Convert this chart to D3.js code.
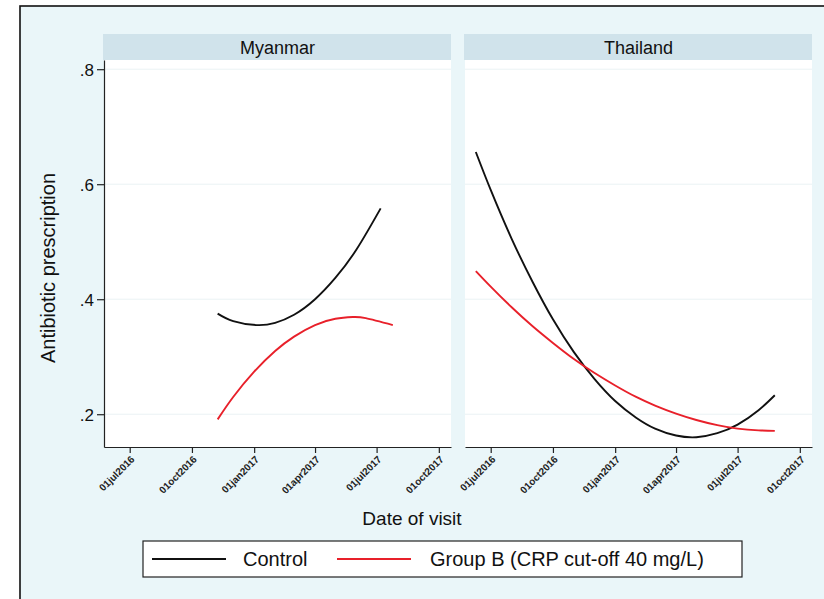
<!DOCTYPE html>
<html><head><meta charset="utf-8">
<script src="https://cdn.jsdelivr.net/npm/d3@7"></script>
<style>body{margin:0;background:#fff}svg{display:block;font-family:"Liberation Sans",Arial,sans-serif}</style>
</head><body>
<script>
// ---- data ----
const panels = ["Myanmar", "Thailand"];
const xTickLabels = ["01jul2016","01oct2016","01jan2017","01apr2017","01jul2017","01oct2017"];
const xTickDates = ["2016-07-01","2016-10-01","2017-01-01","2017-04-01","2017-07-01","2017-10-01"];
const yTicks = [0.2, 0.4, 0.6, 0.8];
const yTickLabels = [".2", ".4", ".6", ".8"];
const seriesNames = ["Control", "Group B (CRP cut-off 40 mg/L)"];
const seriesColors = ["#111111", "#e8202a"];

const myanmarControlDates = ["2016-11-08","2016-12-01","2017-01-05","2017-02-01","2017-03-01","2017-04-01","2017-05-01","2017-06-01","2017-07-07"];
const myanmarControlValues = [0.375, 0.362, 0.355, 0.359, 0.373, 0.400, 0.437, 0.486, 0.558];
const myanmarGroupBDates = ["2016-11-08","2016-12-01","2017-01-01","2017-02-01","2017-03-01","2017-04-01","2017-05-01","2017-05-27","2017-06-15","2017-07-25"];
const myanmarGroupBValues = [0.191, 0.230, 0.274, 0.310, 0.335, 0.355, 0.366, 0.369, 0.367, 0.355];

const thailandControlDates = ["2016-06-09","2016-07-01","2016-08-01","2016-09-01","2016-10-01","2016-11-01","2016-12-01","2017-01-01","2017-02-01","2017-03-01","2017-04-01","2017-05-01","2017-06-01","2017-07-01","2017-08-01","2017-08-25"];
const thailandControlValues = [0.656, 0.590, 0.505, 0.430, 0.365, 0.308, 0.262, 0.223, 0.194, 0.175, 0.163, 0.160, 0.167, 0.182, 0.207, 0.233];
const thailandGroupBDates = ["2016-06-09","2016-07-01","2016-08-01","2016-09-01","2016-10-01","2016-11-01","2016-12-01","2017-01-01","2017-02-01","2017-03-01","2017-04-01","2017-05-01","2017-06-01","2017-07-01","2017-08-01","2017-08-25"];
const thailandGroupBValues = [0.449, 0.422, 0.386, 0.353, 0.324, 0.296, 0.272, 0.250, 0.230, 0.215, 0.201, 0.190, 0.181, 0.175, 0.172, 0.171];

const xDomain = ["2016-05-24","2017-10-19"];
const yDomain = [0.143, 0.816];

// ---- drawing ----
const W = 824, H = 599;
const parse = d3.timeParse("%Y-%m-%d");
const svg = d3.select("body").append("svg").attr("width", W).attr("height", H);

// outer background + border
svg.append("rect").attr("x", 20).attr("y", 6).attr("width", 830).attr("height", 620)
  .attr("fill", "#eaf6f9").attr("stroke", "#111").attr("stroke-width", 1.6);

const panelX = [[104, 451], [465, 812]];
const plotTop = 60, plotBottom = 447;
const y = d3.scaleLinear().domain(yDomain).range([plotBottom, plotTop]);

const data = {
  Myanmar: [
    myanmarControlDates.map((d, i) => ({date: parse(d), v: myanmarControlValues[i]})),
    myanmarGroupBDates.map((d, i) => ({date: parse(d), v: myanmarGroupBValues[i]}))
  ],
  Thailand: [
    thailandControlDates.map((d, i) => ({date: parse(d), v: thailandControlValues[i]})),
    thailandGroupBDates.map((d, i) => ({date: parse(d), v: thailandGroupBValues[i]}))
  ]
};

panels.forEach((name, pi) => {
  const [x0, x1] = panelX[pi];
  const x = d3.scaleTime().domain(xDomain.map(parse)).range([x0, x1]);
  const g = svg.append("g");

  // strip
  g.append("rect").attr("x", x0 - 1).attr("y", 34).attr("width", x1 - x0 + 1).attr("height", 26).attr("fill", "#d0e3eb");
  g.append("text").attr("x", (x0 + x1) / 2).attr("y", 53.5).attr("text-anchor", "middle")
    .attr("font-size", 18).attr("fill", "#111").text(name);

  // plot area
  g.append("rect").attr("x", x0).attr("y", plotTop).attr("width", x1 - x0).attr("height", plotBottom - plotTop).attr("fill", "#fff");

  // gridlines
  g.selectAll(".grid").data(yTicks).enter().append("line")
    .attr("x1", x0).attr("x2", x1).attr("y1", d => y(d)).attr("y2", d => y(d))
    .attr("stroke", "#eaf2f4").attr("stroke-width", 1);

  // x axis
  const xAxis = d3.axisBottom(x).tickValues(xTickDates.map(parse))
    .tickFormat((d, i) => xTickLabels[i]).tickSize(6).tickSizeOuter(0);
  const xg = g.append("g").attr("transform", `translate(0,${plotBottom})`).call(xAxis);
  xg.select(".domain").attr("stroke", "#222").attr("stroke-width", 1.2);
  xg.selectAll(".tick line").attr("stroke", "#222").attr("stroke-width", 1.2);
  xg.selectAll(".tick text").attr("font-size", 10).attr("font-weight", "bold").attr("fill", "#222")
    .attr("text-anchor", "end").attr("dy", 0).attr("y", 0)
    .attr("transform", "translate(5,13) rotate(-45)");

  // y axis on first panel
  if (pi === 0) {
    const yAxis = d3.axisLeft(y).tickValues(yTicks).tickFormat((d, i) => yTickLabels[i]).tickSize(7).tickSizeOuter(0);
    const yg = g.append("g").attr("transform", `translate(${x0},0)`).call(yAxis);
    yg.select(".domain").attr("stroke", "#222").attr("stroke-width", 1.2);
    yg.selectAll(".tick line").attr("stroke", "#222").attr("stroke-width", 1.2);
    yg.selectAll(".tick text").attr("font-size", 17).attr("fill", "#111").attr("x", -10).attr("dy", "0.35em");
  }

  // lines
  const line = d3.line().x(d => x(d.date)).y(d => y(d.v)).curve(d3.curveNatural);
  data[name].forEach((s, si) => {
    g.append("path").datum(s).attr("d", line).attr("fill", "none")
      .attr("stroke", seriesColors[si]).attr("stroke-width", 1.9);
  });
});

// axis titles
svg.append("text").attr("x", 412).attr("y", 525).attr("text-anchor", "middle")
  .attr("font-size", 19).attr("fill", "#111").text("Date of visit");
svg.append("text").attr("transform", "translate(55,268) rotate(-90)").attr("text-anchor", "middle")
  .attr("font-size", 20).attr("fill", "#111").text("Antibiotic prescription");

// legend
const lg = svg.append("g");
lg.append("rect").attr("x", 143).attr("y", 541).attr("width", 599).attr("height", 36)
  .attr("fill", "#fff").attr("stroke", "#222").attr("stroke-width", 1.2);
const legendItems = [{x1: 152, x2: 226, tx: 243}, {x1: 337, x2: 411, tx: 430}];
legendItems.forEach((it, i) => {
  lg.append("line").attr("x1", it.x1).attr("x2", it.x2).attr("y1", 559).attr("y2", 559)
    .attr("stroke", seriesColors[i]).attr("stroke-width", 1.9);
  lg.append("text").attr("x", it.tx).attr("y", 566).attr("font-size", 20).attr("fill", "#111").text(seriesNames[i]);
});
</script>
</body></html>
